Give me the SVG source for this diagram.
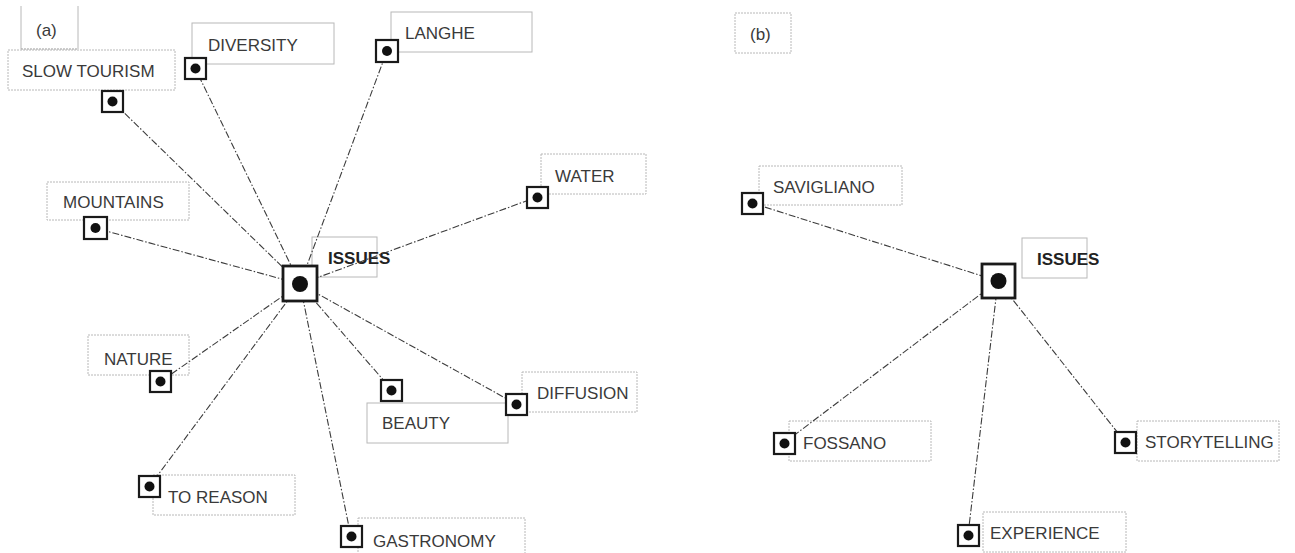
<svg xmlns="http://www.w3.org/2000/svg" width="1295" height="553" viewBox="0 0 1295 553">
  <style>
    .bg { fill: #ffffff; }
    .lbl { fill: #ffffff; stroke: #b8b8b8; stroke-width: 1; }
    .dot { stroke-dasharray: 2 1; }
    .txt { font-family: "Liberation Sans", Arial, sans-serif; font-size: 17px; fill: #3a3a3a; dominant-baseline: central; }
    .bold { font-weight: bold; fill: #222; }
    .link { stroke: #3c3c3c; stroke-width: 1.1; fill: none; stroke-dasharray: 7 2 1.5 2; }
    .mk { fill: #ffffff; stroke: #1a1a1a; stroke-width: 2.2; }
    .hubmk { fill: #ffffff; stroke: #1a1a1a; stroke-width: 2.8; }
    .pt { fill: #111; }
  </style>
  <rect class="bg" x="0" y="0" width="1295" height="553"/>

  <!-- panel captions -->
  <g id="caption-a">
    <path d="M21,6 V49 M78,6 V49" stroke="#b8b8b8" stroke-width="1" fill="none"/>
    <path d="M21,49 H78" stroke="#9a9a9a" stroke-width="1" stroke-dasharray="2 1" fill="none"/>
    <text class="txt" x="36" y="30">(a)</text>
  </g>
  <g id="caption-b">
    <rect class="lbl dot" x="735" y="13" width="56" height="40"/>
    <text class="txt" x="750" y="34">(b)</text>
  </g>

  <!-- label boxes, panel (a) -->
  <g id="lbl-slow-tourism"><rect class="lbl dot" x="8" y="50" width="167" height="40"/><text class="txt" x="22" y="71">SLOW TOURISM</text></g>
  <g id="lbl-diversity"><rect class="lbl" x="192" y="23" width="142" height="41"/><text class="txt" x="208" y="45">DIVERSITY</text></g>
  <g id="lbl-langhe"><rect class="lbl" x="391" y="12" width="141" height="40"/><text class="txt" x="405" y="33">LANGHE</text></g>
  <g id="lbl-water"><rect class="lbl dot" x="541" y="154" width="105" height="40"/><text class="txt" x="555" y="176">WATER</text></g>
  <g id="lbl-mountains"><rect class="lbl dot" x="47" y="182" width="142" height="38"/><text class="txt" x="63" y="202">MOUNTAINS</text></g>
  <g id="lbl-issues-a"><rect class="lbl" x="312" y="237" width="65" height="40"/><text class="txt bold" x="328" y="258">ISSUES</text></g>
  <g id="lbl-nature"><rect class="lbl dot" x="88" y="335" width="101" height="40"/><text class="txt" x="104" y="359">NATURE</text></g>
  <g id="lbl-beauty"><rect class="lbl" x="367" y="403" width="141" height="40"/><text class="txt" x="382" y="423">BEAUTY</text></g>
  <g id="lbl-diffusion"><rect class="lbl dot" x="522" y="372" width="115" height="40"/><text class="txt" x="537" y="393">DIFFUSION</text></g>
  <g id="lbl-to-reason"><rect class="lbl dot" x="153" y="475" width="142" height="40"/><text class="txt" x="168" y="497">TO REASON</text></g>
  <g id="lbl-gastronomy"><rect class="lbl dot" x="358" y="518" width="167" height="42"/><text class="txt" x="373" y="541">GASTRONOMY</text></g>

  <!-- label boxes, panel (b) -->
  <g id="lbl-savigliano"><rect class="lbl dot" x="759" y="166" width="143" height="39"/><text class="txt" x="773" y="187">SAVIGLIANO</text></g>
  <g id="lbl-issues-b"><rect class="lbl" x="1022" y="238" width="65" height="40"/><text class="txt bold" x="1037" y="259">ISSUES</text></g>
  <g id="lbl-fossano"><rect class="lbl dot" x="789" y="421" width="142" height="40"/><text class="txt" x="803" y="443">FOSSANO</text></g>
  <g id="lbl-storytelling"><rect class="lbl dot" x="1137" y="421" width="142" height="40"/><text class="txt" x="1145" y="442">STORYTELLING</text></g>
  <g id="lbl-experience"><rect class="lbl dot" x="983" y="512" width="143" height="40"/><text class="txt" x="990" y="533">EXPERIENCE</text></g>

  <!-- connectors -->
  <g id="connectors">
    <line class="link" x1="300" y1="284" x2="112" y2="101"/>
    <line class="link" x1="300" y1="284" x2="195" y2="68"/>
    <line class="link" x1="300" y1="284" x2="387" y2="51"/>
    <line class="link" x1="300" y1="284" x2="537" y2="197"/>
    <line class="link" x1="300" y1="284" x2="95" y2="228"/>
    <line class="link" x1="300" y1="284" x2="160" y2="382"/>
    <line class="link" x1="300" y1="284" x2="392" y2="390"/>
    <line class="link" x1="300" y1="284" x2="516" y2="404"/>
    <line class="link" x1="300" y1="284" x2="149" y2="487"/>
    <line class="link" x1="300" y1="284" x2="351" y2="537"/>
    <line class="link" x1="998" y1="281" x2="752" y2="203"/>
    <line class="link" x1="998" y1="281" x2="784" y2="443"/>
    <line class="link" x1="998" y1="281" x2="968" y2="535"/>
    <line class="link" x1="998" y1="281" x2="1125" y2="442"/>
  </g>

  <!-- node markers -->
  <g id="hub-a"><rect class="hubmk" x="283" y="266" width="34" height="35"/><circle class="pt" cx="300" cy="284" r="8"/></g>
  <g id="node-slow-tourism"><rect class="mk" x="102" y="91" width="21" height="21"/><circle class="pt" cx="112.5" cy="101.5" r="5"/></g>
  <g id="node-diversity"><rect class="mk" x="185" y="58" width="21" height="21"/><circle class="pt" cx="195.5" cy="68.5" r="5"/></g>
  <g id="node-langhe"><rect class="mk" x="376" y="40" width="22" height="22"/><circle class="pt" cx="387" cy="51" r="5"/></g>
  <g id="node-water"><rect class="mk" x="527" y="187" width="21" height="21"/><circle class="pt" cx="537.5" cy="197.5" r="5"/></g>
  <g id="node-mountains"><rect class="mk" x="84" y="217" width="23" height="22"/><circle class="pt" cx="95.5" cy="228" r="5"/></g>
  <g id="node-nature"><rect class="mk" x="150" y="371" width="21" height="21"/><circle class="pt" cx="160.5" cy="381.5" r="5"/></g>
  <g id="node-beauty"><rect class="mk" x="381" y="380" width="21" height="21"/><circle class="pt" cx="391.5" cy="390.5" r="5"/></g>
  <g id="node-diffusion"><rect class="mk" x="506" y="394" width="21" height="21"/><circle class="pt" cx="516.5" cy="404.5" r="5"/></g>
  <g id="node-to-reason"><rect class="mk" x="139" y="476" width="21" height="21"/><circle class="pt" cx="149.5" cy="486.5" r="5"/></g>
  <g id="node-gastronomy"><rect class="mk" x="341" y="526" width="21" height="21"/><circle class="pt" cx="351.5" cy="536.5" r="5"/></g>

  <g id="hub-b"><rect class="hubmk" x="982" y="264" width="33" height="34"/><circle class="pt" cx="998.5" cy="281" r="8"/></g>
  <g id="node-savigliano"><rect class="mk" x="742" y="193" width="21" height="21"/><circle class="pt" cx="752.5" cy="203.5" r="5"/></g>
  <g id="node-fossano"><rect class="mk" x="774" y="433" width="21" height="21"/><circle class="pt" cx="784.5" cy="443.5" r="5"/></g>
  <g id="node-storytelling"><rect class="mk" x="1115" y="432" width="21" height="21"/><circle class="pt" cx="1125.5" cy="442.5" r="5"/></g>
  <g id="node-experience"><rect class="mk" x="958" y="525" width="21" height="21"/><circle class="pt" cx="968.5" cy="535.5" r="5"/></g>
</svg>
